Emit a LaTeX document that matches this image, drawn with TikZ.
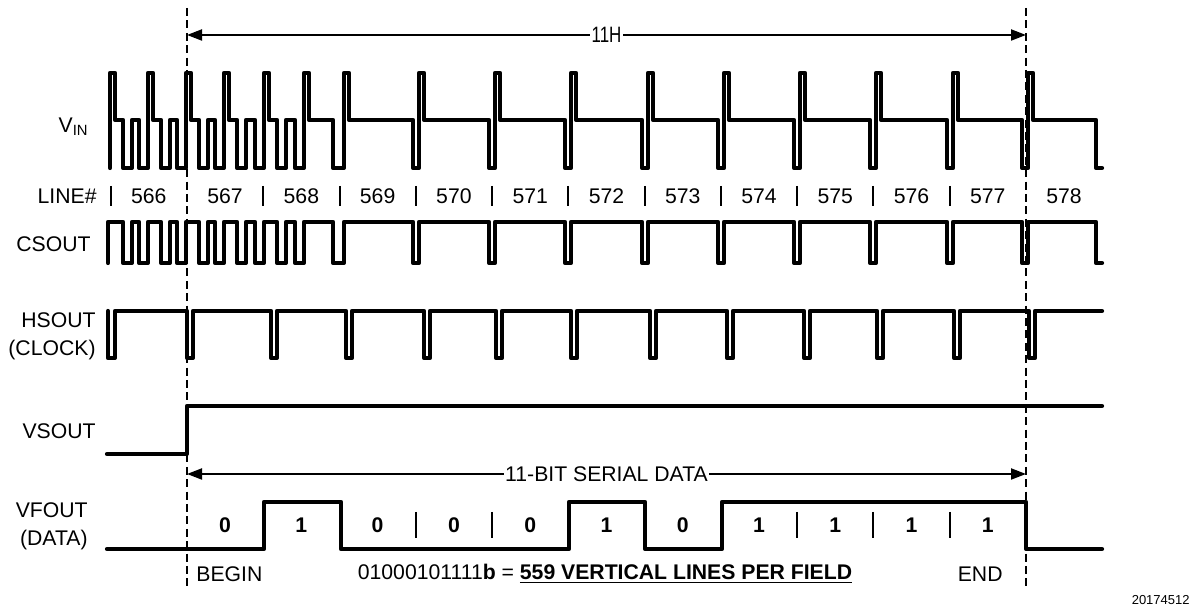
\documentclass[tikz,border=0pt]{standalone}
\usepackage{fontspec}
\setmainfont{Liberation Sans}
\usetikzlibrary{arrows.meta}
\begin{document}
\begin{tikzpicture}[x=0.5pt,y=-0.5pt,
  wave/.style={line width=2.1pt, line join=round, line cap=round},
  guide/.style={line width=0.85pt, dash pattern=on 4pt off 2.2pt},
  dimline/.style={line width=1pt, {Triangle[length=7.5pt,width=5.5pt]}-{Triangle[length=7.5pt,width=5.5pt]}},
  lbl/.style={font=\fontsize{10.6}{14}\selectfont, inner sep=0pt},
  dimlbl/.style={font=\fontsize{10.6}{12}\selectfont, fill=white, inner sep=0.6pt},
  sepline/.style={line width=1pt},
  bitlbl/.style={font=\fontsize{10.6}{12}\selectfont\bfseries, inner sep=0pt, anchor=base}]
\useasboundingbox (0,0) rectangle (1194,613);

% guide lines
\coordinate (dlt) at (187,8);
\coordinate (dlb) at (187,588);
\coordinate (drt) at (1026,8);
\coordinate (drb) at (1026,588);
\draw[guide] (dlt) -- (dlb);
\draw[guide] (drt) -- (drb);

% 11H dimension
\coordinate (hl) at (187,35);
\coordinate (hr) at (1026,35);
\draw[dimline] (hl) -- node[dimlbl] (t11h) {\scalebox{0.8}[1.05]{11H}} (hr);

% serial data dimension
\coordinate (sl) at (187,474);
\coordinate (sr) at (1026,474);
\draw[dimline] (sl) -- node[dimlbl] (tser) {11-BIT SERIAL DATA} (sr);

% signal labels
\node[lbl, anchor=east] (lvin) at (89,127) {V\textsubscript{IN}};
\node[lbl, anchor=east] (lline) at (97,196) {LINE\#};
\node[lbl, anchor=east] (lcs) at (91,244) {CSOUT};
\node[lbl, anchor=east, align=right] (lhs) at (96,336) {HSOUT\\(CLOCK)};
\node[lbl, anchor=east] (lvs) at (96,431) {VSOUT};
\node[lbl, anchor=east, align=right] (lvf) at (88,526) {VFOUT\\(DATA)};

% line numbers
\foreach \k/\n in {-1/566,0/567,1/568,2/569,3/570,4/571,5/572,6/573,7/574,8/575,9/576,10/577,11/578}
  \node[lbl, anchor=base] (ln\n) at ({187+76.27*\k+38.1},203.5) {\n};
\foreach \k in {-1,1,2,3,4,5,6,7,8,9,10}
  \draw[sepline] ({187+76.27*\k},186) -- ({187+76.27*\k},206);

% V_IN
\draw[wave] (110,168) -- (110,73) -- (115,73) -- (115,120) -- (123,120) -- (123,168) -- (132,168) -- (132,120) -- (139,120) -- (139,168) -- (148,168)
 -- (148,73) -- (153,73) -- (153,120) -- (161,120) -- (161,168) -- (170,168) -- (170,120) -- (177,120) -- (177,168) -- (186,168)
 -- (186,73) -- (191,73) -- (191,120) -- (199,120) -- (199,168) -- (208,168) -- (208,120) -- (215,120) -- (215,168) -- (224,168)
 -- (224,73) -- (229,73) -- (229,120) -- (237,120) -- (237,168) -- (246,168) -- (246,120) -- (255,120) -- (255,168) -- (264,168)
 -- (264,73) -- (269,73) -- (269,120) -- (277,120) -- (277,168) -- (286,168) -- (286,120) -- (295,120) -- (295,168) -- (304,168)
 -- (304,73) -- (309,73) -- (309,120) -- (333,120) -- (333,168) -- (344,168)
 -- (344,73) -- (349,73) -- (349,120) -- (413,120) -- (413,168) -- (419,168)
 \foreach \t/\u in {419/495,495/571,571/648,648/724,724/800,800/876,876/953,953/1028,1028/1102} {
   -- (\t,73) -- (\t+5,73) -- (\t+5,120) -- (\u-6,120) -- (\u-6,168) -- (\u,168) };

% CSOUT
\draw[wave] (108,263) -- (108,222)
 \foreach \a/\b in {123/132,139/148,161/170,177/186,199/208,215/224,237/246,255/264,277/286,295/304,333/344,413/419,489/495,565/571,642/648,718/724,794/800,870/876,947/953,1022/1028} {
   -- (\a,222) -- (\a,263) -- (\b,263) -- (\b,222) }
 -- (1096,222) -- (1096,263) -- (1102,263);

% HSOUT
\draw[wave] (108,311) -- (108,358) -- (115,358) -- (115,311)
 \foreach \a/\b in {187/193,271/277,346/352,424/430,496/502,571/577,650/656,727/733,804/810,877/883,954/960,1029/1035} {
   -- (\a,311) -- (\a,358) -- (\b,358) -- (\b,311) }
 -- (1102,311);

% VSOUT
\draw[wave] (107,454) -- (187,454) -- (187,406) -- (1102,406);

% VFOUT
\draw[wave] (107,549) -- (264,549) -- (264,502) -- (341,502) -- (341,549) -- (569,549) -- (569,502) -- (645,502) -- (645,549) -- (722,549) -- (722,502) -- (1026,502) -- (1026,549) -- (1102,549);

% bits
\foreach \k/\v in {0/0,1/1,2/0,3/0,4/0,5/1,6/0,7/1,8/1,9/1,10/1}
  \node[bitlbl] (bit\k) at ({187+76.27*\k+38.1},532.5) {\v};
\foreach \k in {3,4,8,9,10}
  \draw[sepline] ({187+76.27*\k},512) -- ({187+76.27*\k},538);

% bottom texts
\node[lbl, anchor=west] (tbegin) at (196,574) {BEGIN};
\node[lbl, anchor=east] (tend) at (1003,574) {END};
\node[lbl] (tcap) at (605,574) {01000101111\textbf{b} = \textbf{\underline{559 VERTICAL LINES PER FIELD}}};
\node[font=\fontsize{6.5}{7}\selectfont, inner sep=0pt, anchor=east] (tfig) at (1190,600) {20174512};
\end{tikzpicture}
\end{document}
